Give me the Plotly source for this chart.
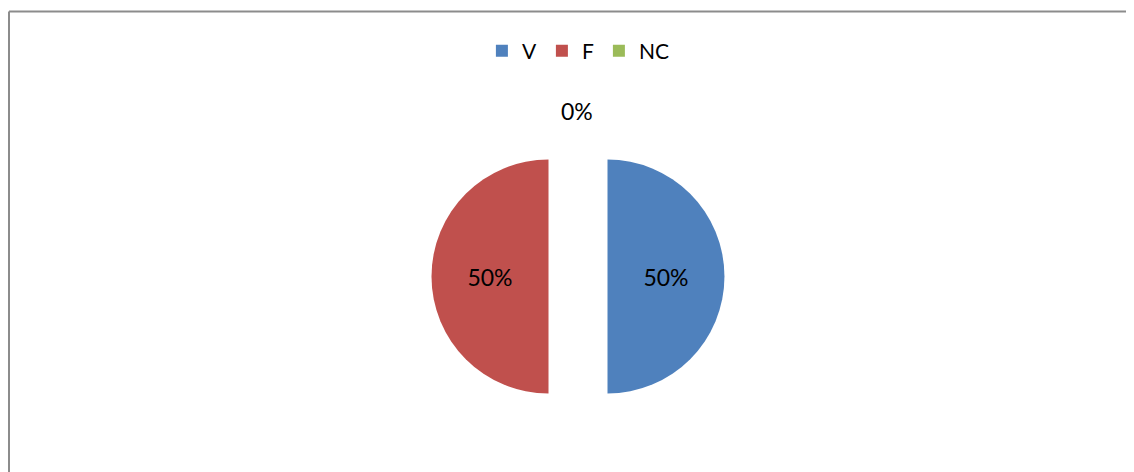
import plotly.graph_objects as go

labels = ["V", "F", "NC"]
values = [50, 50, 0]
colors = ["#4F81BD", "#C0504D", "#9BBB59"]

W, H = 1134, 472

total = sum(values)
# plotly draws no text for a zero slice, so the NC label is added as an annotation
nc_label = "{:.0%}".format(values[2] / total)

fig = go.Figure()
fig.add_trace(go.Pie(
    labels=labels,
    values=values,
    marker=dict(colors=colors, line=dict(width=0)),
    sort=False,
    direction="clockwise",
    rotation=0,
    pull=[0.252, 0.252, 0.252],
    textinfo="percent",
    texttemplate="%{percent:.0%}",
    textposition="inside",
    insidetextorientation="horizontal",
    textfont=dict(family="Lato", size=23, color="black"),
    domain=dict(x=[423.5 / W, 716.5 / W], y=[1 - 415 / H, 1 - 122 / H]),
    hoverinfo="label+percent",
))

fig.add_annotation(
    text=nc_label, showarrow=False,
    xref="paper", yref="paper",
    x=569 / W, y=1 - 103 / H, xanchor="center", yanchor="middle",
    font=dict(family="Lato", size=23, color="black"),
)

# chart frame (only top and left edges show)
fig.add_shape(type="line", xref="paper", yref="paper",
              x0=1 / W, x1=1, y0=1 - 3.5 / H, y1=1 - 3.5 / H,
              line=dict(color="#8c8c8c", width=2))
fig.add_shape(type="line", xref="paper", yref="paper",
              x0=1 / W, x1=1 / W, y0=0, y1=1 - 3.5 / H,
              line=dict(color="#8c8c8c", width=2))

fig.update_layout(
    width=W,
    height=H,
    margin=dict(l=0, r=0, t=0, b=0),
    paper_bgcolor="white",
    plot_bgcolor="white",
    showlegend=True,
    legend=dict(
        orientation="h",
        x=0.503, xanchor="center",
        y=1 - 43 / H, yanchor="middle",
        font=dict(family="Lato", size=21, color="black"),
        traceorder="normal",
    ),
)

fig.write_html("out.html")
